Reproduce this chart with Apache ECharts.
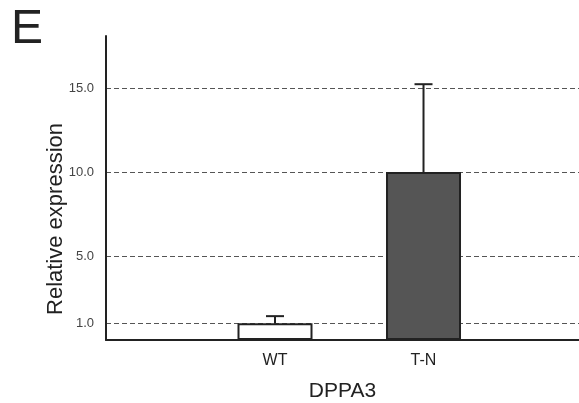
<!DOCTYPE html>
<html>
<head>
<meta charset="utf-8">
<script src="https://cdn.jsdelivr.net/npm/echarts@6/dist/echarts.min.js"></script>
<style>html,body{margin:0;padding:0;background:#fff;}#c{width:579px;height:403px;}</style>
</head>
<body>
<div id="c"></div>
<script>
var categories = ['WT', 'T-N'];
var positions = [1, 2];
var means = [1.0, 10.0];
var errTops = [1.42, 15.23];
var barColors = ['#ffffff', '#555555'];
var yTicks = [1, 5, 10, 15];

var chart = echarts.init(document.getElementById('c'));
var barData = means.map(function (m, i) {
  return { value: [positions[i], m], itemStyle: { color: barColors[i] } };
});
var errData = means.map(function (m, i) { return [positions[i], m, errTops[i]]; });

chart.setOption({
  animation: false,
  backgroundColor: '#fff',
  grid: { left: 106, right: 0, top: 36, bottom: 63, containLabel: false, outerBoundsMode: 'none' },
  xAxis: {
    type: 'value', min: -0.138, max: 3.047,
    splitLine: { show: false },
    axisLine: { show: true, onZero: false, lineStyle: { color: '#222', width: 2 } },
    axisTick: { show: false, customValues: positions },
    axisLabel: {
      customValues: positions,
      formatter: function (v) { var i = positions.indexOf(v); return i >= 0 ? categories[i] : ''; },
      color: '#222', fontSize: 16, fontFamily: 'Liberation Sans, Arial, sans-serif', margin: 13
    },
    name: 'DPPA3', nameLocation: 'middle', nameGap: 41,
    nameTextStyle: { color: '#222', fontSize: 21, fontFamily: 'Liberation Sans, Arial, sans-serif' }
  },
  yAxis: {
    type: 'value', min: 0, max: 18.1,
    axisLine: { show: true, onZero: false, lineStyle: { color: '#222', width: 2 } },
    axisTick: { show: false, customValues: yTicks },
    axisLabel: {
      customValues: yTicks,
      formatter: function (v) { return v.toFixed(1); },
      color: '#444', fontSize: 13, fontFamily: 'Liberation Sans, Arial, sans-serif', margin: 12
    },
    splitLine: { show: true, lineStyle: { color: '#555', width: 1, type: [5, 3] } }
  },
  graphic: [
    { type: 'text', left: 11, top: 6, style: { text: 'E', fontSize: 48, fill: '#222', fontFamily: 'Liberation Sans, Arial, sans-serif' } },
    { type: 'text', x: 56, y: 219, rotation: Math.PI / 2,
      style: { text: 'Relative expression', fontSize: 22, fill: '#222', align: 'center', verticalAlign: 'middle', fontFamily: 'Liberation Sans, Arial, sans-serif' } }
  ],
  series: [
    {
      type: 'bar', barWidth: 75, data: barData,
      itemStyle: { borderColor: '#222', borderWidth: 2 }
    },
    {
      type: 'custom', data: errData,
      renderItem: function (params, api) {
        var x = api.value(0);
        var p0 = api.coord([x, api.value(1)]);
        var p1 = api.coord([x, api.value(2)]);
        var hw = 9;
        return {
          type: 'group',
          children: [
            { type: 'line', shape: { x1: p0[0], y1: p0[1], x2: p1[0], y2: p1[1] }, style: { stroke: '#222', lineWidth: 2 } },
            { type: 'line', shape: { x1: p1[0] - hw, y1: p1[1], x2: p1[0] + hw, y2: p1[1] }, style: { stroke: '#222', lineWidth: 2 } }
          ]
        };
      },
      z: 1
    }
  ]
});
</script>
</body>
</html>
